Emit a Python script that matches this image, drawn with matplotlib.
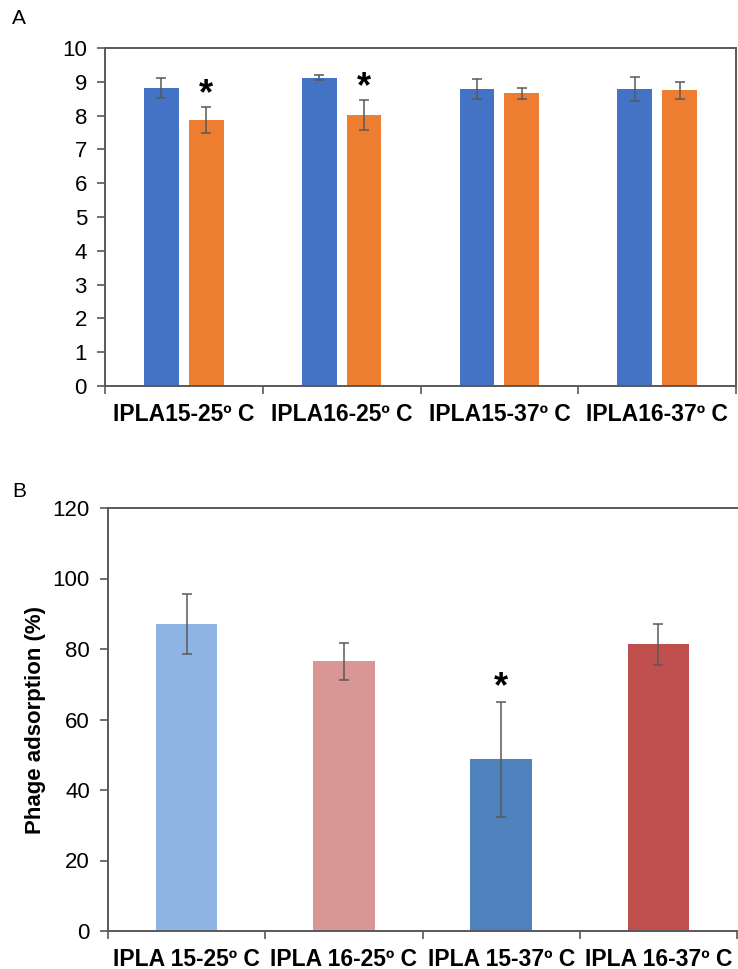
import matplotlib
matplotlib.use("Agg")
import matplotlib.pyplot as plt
import numpy as np

plt.rcParams["font.family"] = ["Liberation Sans", "DejaVu Sans"]

# Panel A: growth at two conditions per strain/temperature
cats_a = ["IPLA15-25º C", "IPLA16-25º C", "IPLA15-37º C", "IPLA16-37º C"]
blue_vals = [8.82, 9.12, 8.78, 8.78]
blue_err = [0.30, 0.07, 0.30, 0.36]
orange_vals = [7.87, 8.02, 8.66, 8.75]
orange_err = [0.38, 0.45, 0.17, 0.25]
sig_a = [True, True, False, False]

# Panel B: phage adsorption
cats_b = ["IPLA 15-25º C", "IPLA 16-25º C", "IPLA 15-37º C", "IPLA 16-37º C"]
ads_vals = [87.0, 76.5, 48.7, 81.3]
ads_err = [8.5, 5.2, 16.3, 5.8]
sig_b = [False, False, True, False]
colors_b = ["#8EB4E3", "#D99694", "#4F81BD", "#C0504D"]

spine_c = "#595959"
err_c = "#595959"

fig = plt.figure(figsize=(7.38, 9.69), dpi=100)

# ---- Panel A ----
axA = fig.add_axes([105/738, 1-386/969, 631/738, 338/969])
x = np.arange(len(cats_a))
w = 0.22
off = 0.142
axA.bar(x - off, blue_vals, w, color="#4472C4", zorder=2)
axA.bar(x + off, orange_vals, w, color="#ED7D31", zorder=2)
ekw = dict(fmt="none", ecolor=err_c, elinewidth=1.1, capsize=3.5, capthick=1.1, zorder=3)
axA.errorbar(x - off, blue_vals, yerr=blue_err, **ekw)
axA.errorbar(x + off, orange_vals, yerr=orange_err, **ekw)
for i, s in enumerate(sig_a):
    if s:
        axA.text(x[i] + off, orange_vals[i] + orange_err[i] - 0.15, "*",
                 ha="center", va="bottom", fontsize=26, fontweight="bold")
axA.set_xlim(-0.5, 3.5)
axA.set_ylim(0, 10)
axA.set_yticks(range(0, 11))
axA.set_xticks(x)
axA.set_xticklabels(cats_a, fontweight="bold", fontsize=16.5)
axA.set_xticks(np.arange(-0.5, 4.0, 1.0), minor=True)
axA.tick_params(axis="x", which="major", length=0, pad=12)
axA.tick_params(axis="x", which="minor", length=6, width=1.2, color=spine_c, direction="out")
axA.tick_params(axis="y", length=6, width=1.2, color=spine_c, direction="out", labelsize=16, pad=7)
for sp in axA.spines.values():
    sp.set_color(spine_c)
    sp.set_linewidth(1.4)
fig.text(12/738, 1-19/969, "A", fontsize=15, va="center", ha="left")

# ---- Panel B ----
axB = fig.add_axes([108/738, 1-931/969, 629/738, 423/969])
xb = np.arange(len(cats_b))
axB.bar(xb, ads_vals, 0.39, color=colors_b, zorder=2)
axB.errorbar(xb, ads_vals, yerr=ads_err, **ekw)
for i, s in enumerate(sig_b):
    if s:
        axB.text(xb[i], ads_vals[i] + ads_err[i] - 1.0, "*",
                 ha="center", va="bottom", fontsize=26, fontweight="bold")
axB.set_xlim(-0.5, 3.5)
axB.set_ylim(0, 120)
axB.set_yticks(range(0, 121, 20))
axB.set_xticks(xb)
axB.set_xticklabels(cats_b, fontweight="bold", fontsize=16.5)
axB.set_xticks(np.arange(-0.5, 4.0, 1.0), minor=True)
axB.tick_params(axis="x", which="major", length=0, pad=12)
axB.tick_params(axis="x", which="minor", length=6, width=1.2, color=spine_c, direction="out")
axB.tick_params(axis="y", length=6, width=1.2, color=spine_c, direction="out", labelsize=16, pad=7)
axB.set_ylabel("Phage adsorption (%)", fontsize=16, fontweight="bold", labelpad=5)
axB.spines["right"].set_visible(False)
for sp in ["left", "bottom", "top"]:
    axB.spines[sp].set_color(spine_c)
    axB.spines[sp].set_linewidth(1.4)
fig.text(12/738, 1-491/969, "B", fontsize=15, va="center", ha="left")

fig.savefig("out.png", dpi=100)
